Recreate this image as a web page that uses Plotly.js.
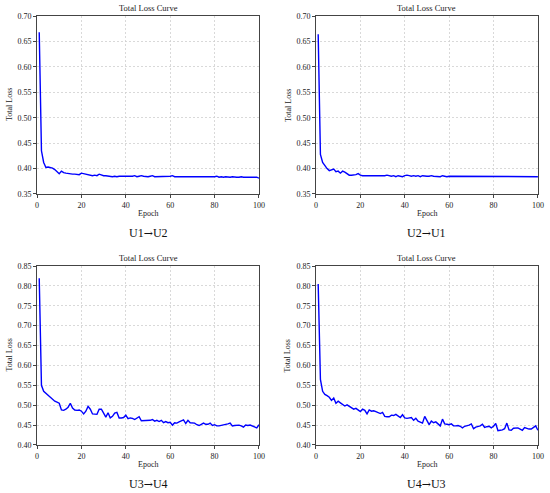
<!DOCTYPE html>
<html>
<head>
<meta charset="utf-8">
<script src="https://cdn.plot.ly/plotly-3.0.1.min.js"></script>
<style>html,body{margin:0;padding:0;background:#fff;}#chart{width:550px;height:493px;}</style>
</head>
<body>
<div id="chart"></div>
<script>
const epochs = Array.from({length: 100}, (_, i) => i + 1);

const lossU1U2 = [0.668,0.435,0.412,0.402,0.403,0.402,0.401,0.398,0.394,0.390,
0.395,0.392,0.391,0.390,0.390,0.389,0.389,0.388,0.388,0.391,
0.390,0.389,0.387,0.386,0.386,0.387,0.386,0.389,0.387,0.386,
0.386,0.385,0.385,0.384,0.385,0.384,0.385,0.385,0.384,0.385,
0.385,0.384,0.385,0.386,0.384,0.385,0.386,0.385,0.384,0.384,
0.385,0.386,0.384,0.384,0.385,0.384,0.384,0.385,0.384,0.385,
0.386,0.384,0.384,0.384,0.383,0.384,0.384,0.383,0.384,0.384,
0.384,0.383,0.384,0.384,0.383,0.384,0.384,0.383,0.384,0.384,
0.385,0.383,0.384,0.383,0.384,0.383,0.383,0.384,0.383,0.383,
0.383,0.384,0.383,0.383,0.383,0.382,0.383,0.383,0.383,0.381];

const lossU2U1 = [0.664,0.428,0.412,0.405,0.400,0.396,0.397,0.399,0.394,0.395,
0.391,0.395,0.393,0.389,0.387,0.387,0.387,0.388,0.390,0.387,
0.386,0.386,0.386,0.386,0.385,0.386,0.386,0.385,0.386,0.386,
0.386,0.387,0.386,0.385,0.386,0.384,0.386,0.385,0.384,0.386,
0.387,0.386,0.385,0.386,0.385,0.386,0.384,0.386,0.385,0.385,
0.385,0.386,0.385,0.385,0.385,0.384,0.386,0.385,0.384,0.385,
0.385,0.384,0.385,0.384,0.385,0.384,0.385,0.384,0.385,0.384,
0.384,0.385,0.384,0.384,0.385,0.384,0.384,0.385,0.384,0.384,
0.385,0.384,0.384,0.384,0.385,0.384,0.384,0.384,0.384,0.385,
0.384,0.384,0.384,0.384,0.385,0.384,0.384,0.384,0.384,0.384];

const lossU3U4 = [0.819,0.550,0.535,0.530,0.525,0.520,0.517,0.510,0.508,0.505,
0.488,0.487,0.490,0.495,0.505,0.493,0.488,0.487,0.488,0.485,
0.478,0.485,0.497,0.490,0.478,0.478,0.477,0.490,0.490,0.480,
0.470,0.481,0.468,0.472,0.480,0.482,0.468,0.468,0.469,0.475,
0.466,0.468,0.467,0.464,0.468,0.471,0.461,0.461,0.461,0.462,
0.462,0.464,0.460,0.462,0.459,0.462,0.456,0.459,0.456,0.457,
0.450,0.456,0.455,0.458,0.460,0.463,0.454,0.462,0.456,0.456,
0.455,0.451,0.449,0.452,0.455,0.452,0.452,0.455,0.449,0.451,
0.448,0.448,0.449,0.451,0.452,0.453,0.455,0.448,0.449,0.449,
0.450,0.448,0.445,0.450,0.449,0.450,0.448,0.447,0.443,0.451];

const lossU4U3 = [0.805,0.565,0.535,0.527,0.524,0.520,0.512,0.518,0.505,0.510,
0.506,0.502,0.498,0.501,0.497,0.494,0.490,0.492,0.488,0.484,
0.490,0.487,0.478,0.488,0.485,0.486,0.484,0.481,0.479,0.482,
0.472,0.471,0.471,0.475,0.474,0.477,0.473,0.469,0.476,0.468,
0.467,0.469,0.469,0.462,0.467,0.460,0.457,0.455,0.472,0.463,
0.451,0.460,0.456,0.458,0.452,0.448,0.465,0.453,0.452,0.451,
0.453,0.448,0.448,0.449,0.447,0.443,0.447,0.448,0.450,0.453,
0.441,0.445,0.447,0.448,0.452,0.444,0.446,0.447,0.443,0.447,
0.454,0.436,0.437,0.438,0.441,0.455,0.438,0.437,0.442,0.443,
0.443,0.440,0.437,0.444,0.442,0.440,0.440,0.443,0.448,0.437];

const panelLabels = ["U1\u2192U2", "U2\u2192U1", "U3\u2192U4", "U4\u2192U3"];
const panelTitle = "Total Loss Curve";
const xTitle = "Epoch";
const yTitle = "Total Loss";

const series = [lossU1U2, lossU2U1, lossU3U4, lossU4U3];
const yRanges = [[0.35, 0.70], [0.35, 0.70], [0.40, 0.85], [0.40, 0.85]];
const yDtick = 0.05;

const xDomains = [[0.0673, 0.4709], [0.5745, 0.978], [0.0673, 0.4709], [0.5745, 0.978]];
const yDomains = [[0.6065, 0.9675], [0.6065, 0.9675], [0.0974, 0.4604], [0.0974, 0.4604]];

const FONT = "Liberation Serif, Times New Roman, serif";
const traces = [];
const layout = {
  width: 550, height: 493,
  margin: {l: 0, r: 0, t: 0, b: 0},
  paper_bgcolor: "#fff", plot_bgcolor: "#fff",
  showlegend: false,
  font: {family: FONT, size: 8, color: "#222"},
  annotations: []
};

function labelHtml(t) {
  return t.replace("\u2192", '<span style="font-family:DejaVu Serif;font-size:11px">\u2192</span>');
}

series.forEach((s, i) => {
  const n = i + 1;
  const xa = n === 1 ? "x" : "x" + n;
  const ya = n === 1 ? "y" : "y" + n;
  traces.push({
    x: epochs, y: s, xaxis: xa, yaxis: ya,
    type: "scatter", mode: "lines",
    line: {color: "#0000ff", width: 1.4},
    hoverinfo: "skip"
  });
  const axCommon = {
    showline: true, mirror: true, linecolor: "#444", linewidth: 1,
    showgrid: true, gridcolor: "#cfcfcf", griddash: "2px,2px", gridwidth: 0.8,
    ticks: "outside", ticklen: 3, tickwidth: 1, tickcolor: "#444",
    zeroline: false,
    tickfont: {family: FONT, size: 8, color: "#222"}
  };
  layout["xaxis" + (n === 1 ? "" : n)] = Object.assign({}, axCommon, {
    domain: xDomains[i], anchor: ya, range: [0, 100], dtick: 20, tick0: 0
  });
  layout["yaxis" + (n === 1 ? "" : n)] = Object.assign({}, axCommon, {
    domain: yDomains[i], anchor: xa, range: yRanges[i], dtick: yDtick, tick0: 0,
    tickformat: ".2f"
  });
  const xc = (xDomains[i][0] + xDomains[i][1]) / 2;
  layout.annotations.push({
    text: panelTitle, xref: "paper", yref: "paper", x: xc, y: yDomains[i][1],
    xanchor: "center", yanchor: "bottom", yshift: 1, showarrow: false,
    font: {family: FONT, size: 8.5, color: "#222"}
  });
  layout.annotations.push({
    text: xTitle, xref: "paper", yref: "paper", x: xc, y: yDomains[i][0],
    xanchor: "center", yanchor: "top", yshift: -13, showarrow: false,
    font: {family: FONT, size: 8, color: "#222"}
  });
  layout.annotations.push({
    text: yTitle, xref: "paper", yref: "paper", x: xDomains[i][0],
    y: (yDomains[i][0] + yDomains[i][1]) / 2,
    xanchor: "center", yanchor: "middle", xshift: -28, textangle: -90, showarrow: false,
    font: {family: FONT, size: 8, color: "#222"}
  });
  layout.annotations.push({
    text: labelHtml(panelLabels[i]), xref: "paper", yref: "paper", x: xc, y: yDomains[i][0],
    xanchor: "center", yanchor: "middle", yshift: -39, showarrow: false,
    font: {family: FONT, size: 12, color: "#111"}
  });
});

Plotly.newPlot("chart", traces, layout, {staticPlot: true, displayModeBar: false});
</script>
</body>
</html>
